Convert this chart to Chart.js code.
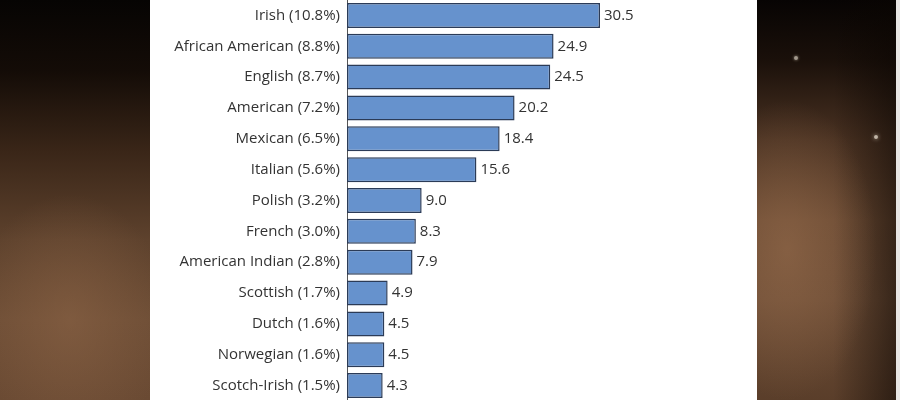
<!DOCTYPE html>
<html>
<head>
<meta charset="utf-8">
<script src="https://cdn.jsdelivr.net/npm/chart.js@4"></script>
<style>
html,body{margin:0;padding:0;width:900px;height:400px;overflow:hidden;}
body{position:relative;background:#2a1a10;}
#bgL{position:absolute;left:0;top:0;width:150px;height:400px;
 background:
  radial-gradient(ellipse 140px 180px at 70px 320px, rgba(140,100,70,0.55), rgba(0,0,0,0) 70%),
  linear-gradient(to bottom, #060403 0%, #140c07 18%, #3a2618 38%, #5e422d 60%, #6e4e36 80%, #6a4a33 100%);}
#bgR{position:absolute;left:757px;top:0;width:139px;height:400px;
 background:
  radial-gradient(ellipse 120px 200px at 30px 250px, rgba(150,108,76,0.6), rgba(0,0,0,0) 75%),
  linear-gradient(to right, rgba(0,0,0,0) 0%, rgba(0,0,0,0) 55%, rgba(10,5,2,0.55) 100%),
  linear-gradient(to bottom, #070403 0%, #1a100a 15%, #4a3222 35%, #6a4a33 55%, #6d4d36 75%, #5a3e2a 100%);}
#stripR{position:absolute;left:896px;top:0;width:4px;height:400px;background:#e8e6e4;}
#star1{position:absolute;left:794px;top:56px;width:4px;height:4px;border-radius:50%;background:rgba(255,245,230,0.6);box-shadow:0 0 3px rgba(255,240,220,0.6);}
#star2{position:absolute;left:874px;top:135px;width:4px;height:4px;border-radius:50%;background:rgba(255,245,230,0.7);box-shadow:0 0 4px rgba(255,240,220,0.7);}
#wrap{position:absolute;left:150px;top:0;width:607px;height:401px;background:#ffffff;}
</style>
</head>
<body>
<div id="bgL"></div>
<div id="bgR"></div>
<div id="stripR"></div>
<div id="star1"></div>
<div id="star2"></div>
<div id="wrap"><canvas id="c"></canvas></div>
<script>
const categories = [
  "Irish (10.8%)",
  "African American (8.8%)",
  "English (8.7%)",
  "American (7.2%)",
  "Mexican (6.5%)",
  "Italian (5.6%)",
  "Polish (3.2%)",
  "French (3.0%)",
  "American Indian (2.8%)",
  "Scottish (1.7%)",
  "Dutch (1.6%)",
  "Norwegian (1.6%)",
  "Scotch-Irish (1.5%)"
];
const values = [30.5, 24.9, 24.5, 20.2, 18.4, 15.6, 9.0, 8.3, 7.9, 4.9, 4.5, 4.5, 4.3];
const valueLabels = ["30.5","24.9","24.5","20.2","18.4","15.6","9.0","8.3","7.9","4.9","4.5","4.5","4.3"];

const FONT = "'Open Sans', 'DejaVu Sans', sans-serif";

const valueLabelPlugin = {
  id: 'valueLabels',
  afterDatasetsDraw(chart) {
    const ctx = chart.ctx;
    const meta = chart.getDatasetMeta(0);
    ctx.save();
    ctx.font = "15px " + FONT;
    ctx.fillStyle = "#333333";
    ctx.textAlign = "left";
    ctx.textBaseline = "middle";
    meta.data.forEach((bar, i) => {
      ctx.fillText(valueLabels[i], bar.x + 4, bar.y);
    });
    ctx.restore();
  }
};

new Chart(document.getElementById('c'), {
  type: 'bar',
  data: {
    labels: categories,
    datasets: [{
      data: values,
      backgroundColor: '#6692cd',
      borderColor: '#2b3b57',
      borderWidth: 1.5,
      borderSkipped: false,
      barPercentage: 0.81,
      categoryPercentage: 1.0
    }]
  },
  options: {
    indexAxis: 'y',
    responsive: true,
    maintainAspectRatio: false,
    animation: false,
    layout: { padding: { left: 0, right: 36.7, top: 0, bottom: 0 } },
    plugins: { legend: { display: false }, tooltip: { enabled: false } },
    scales: {
      x: { display: false, min: 0, max: 45 },
      y: {
        afterFit(scale) { scale.width = 197; scale.paddingTop = 0; scale.paddingBottom = 0; },
        grid: { display: true, drawOnChartArea: false, drawTicks: false },
        border: { display: true, color: '#555555', width: 1 },
        ticks: { padding: 7, color: '#333333', font: { family: FONT, size: 15 } }
      }
    }
  },
  plugins: [valueLabelPlugin]
});
</script>
</body>
</html>
